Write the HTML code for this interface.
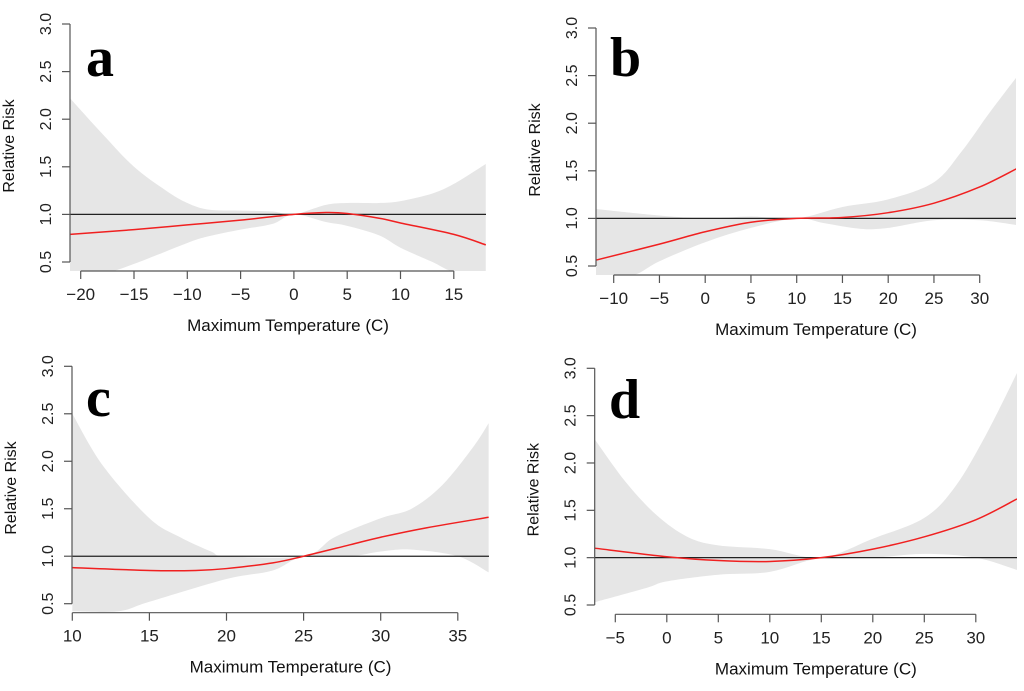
<!DOCTYPE html>
<html><head><meta charset="utf-8"><style>
body{margin:0;background:#fff}
svg{display:block;font-family:"Liberation Sans",Arial,sans-serif}
</style></head><body>
<svg id="chart" width="1024" height="691" viewBox="0 0 1024 691"></svg>
<script>
// Panel a
const aRedX=[-21,-15,-10,-5,0,3,5,8,10,15,18];
const aRedY=[0.79,0.84,0.89,0.94,1.0,1.02,1.01,0.96,0.91,0.79,0.68];
const aUpX=[-21,-18,-15,-12,-10,-8,-5,-2,0,3,5,8,10,13,15,18];
const aUpY=[2.22,1.85,1.5,1.25,1.12,1.05,1.04,1.03,1.0,1.1,1.12,1.12,1.14,1.22,1.32,1.53];
const aLoX=[-21,-18,-15,-10,-8,-5,-2,0,3,5,8,10,13,15,18];
const aLoY=[0.4,0.38,0.48,0.7,0.77,0.84,0.9,1.0,0.92,0.88,0.78,0.65,0.5,0.4,0.4];
const aTicks=[-20,-15,-10,-5,0,5,10,15];
// Panel b
const bRedX=[-12,-5,0,5,10,15,20,25,30,34];
const bRedY=[0.56,0.73,0.86,0.96,1.0,1.01,1.06,1.16,1.33,1.52];
const bUpX=[-12,-5,0,5,10,15,20,25,28,31,34];
const bUpY=[1.1,1.03,1.0,1.02,1.0,1.12,1.2,1.38,1.7,2.1,2.48];
const bLoX=[-12,-8,-5,0,5,10,13,17,20,25,30,34];
const bLoY=[0.4,0.4,0.55,0.75,0.9,1.0,0.95,0.89,0.9,0.98,0.98,0.93];
const bTicks=[-10,-5,0,5,10,15,20,25,30];
// Panel c
const cRedX=[10,15,18,20,23,25,28,30,33,37];
const cRedY=[0.88,0.85,0.85,0.87,0.93,1.0,1.12,1.2,1.3,1.41];
const cUpX=[10,12,15,17,19,20,25,27,30,32,34,36,37];
const cUpY=[2.5,1.95,1.4,1.2,1.05,1.0,1.0,1.2,1.4,1.5,1.75,2.15,2.4];
const cLoX=[10,13,15,20,23,25,28,30,32,35,37];
const cLoY=[0.42,0.42,0.52,0.76,0.85,1.0,1.0,1.05,1.07,1.0,0.83];
const cTicks=[10,15,20,25,30,35];
// Panel d
const dRedX=[-7,0,5,10,15,20,25,30,34];
const dRedY=[1.1,1.01,0.97,0.96,1.0,1.09,1.22,1.4,1.62];
const dUpX=[-7,-4,-1,2,5,10,15,20,25,28,31,34];
const dUpY=[2.25,1.8,1.45,1.22,1.13,1.09,1.0,1.2,1.42,1.75,2.3,2.95];
const dLoX=[-7,-2,0,5,10,15,20,25,30,34];
const dLoY=[0.53,0.68,0.75,0.82,0.85,1.0,1.0,1.04,1.0,0.87];
const dTicks=[-5,0,5,10,15,20,25,30];
const yTicks=[0.5,1.0,1.5,2.0,2.5,3.0];

const NS="http://www.w3.org/2000/svg";
const svg=document.getElementById('chart');
function mk(tag,attrs,parent){const e=document.createElementNS(NS,tag);for(const k in attrs)e.setAttribute(k,attrs[k]);(parent||svg).appendChild(e);return e;}
function smooth(pts){let d='M'+pts[0][0]+','+pts[0][1];for(let i=0;i<pts.length-1;i++){const p0=pts[Math.max(0,i-1)],p1=pts[i],p2=pts[i+1],p3=pts[Math.min(pts.length-1,i+2)];
const c1=[p1[0]+(p2[0]-p0[0])/6,p1[1]+(p2[1]-p0[1])/6],c2=[p2[0]-(p3[0]-p1[0])/6,p2[1]-(p3[1]-p1[1])/6];
d+=' C'+c1[0]+','+c1[1]+' '+c2[0]+','+c2[1]+' '+p2[0]+','+p2[1];}return d;}

const panels=[
 {id:'a',ax:70,t0:-20,t0px:80.7,per5:53.3,y3:24,y05:262,xaxY:271,right:486,xmin:-21,xmax:18,letterX:86,letterY:76,
  rx:aRedX,ry:aRedY,ux:aUpX,uy:aUpY,lx:aLoX,ly:aLoY,ticks:aTicks},
 {id:'b',ax:596,t0:-10,t0px:613.7,per5:45.75,y3:28,y05:266,xaxY:275,right:1016,xmin:-12,xmax:34,letterX:610,letterY:76,
  rx:bRedX,ry:bRedY,ux:bUpX,uy:bUpY,lx:bLoX,ly:bLoY,ticks:bTicks},
 {id:'c',ax:72,t0:10,t0px:72.3,per5:77.1,y3:366.3,y05:603.7,xaxY:612.7,right:489,xmin:10,xmax:37.1,letterX:86,letterY:416,
  rx:cRedX,ry:cRedY,ux:cUpX,uy:cUpY,lx:cLoX,ly:cLoY,ticks:cTicks},
 {id:'d',ax:594.7,t0:-5,t0px:615.3,per5:51.5,y3:368.3,y05:605,xaxY:614.3,right:1017,xmin:-7,xmax:34,letterX:609,letterY:418,
  rx:dRedX,ry:dRedY,ux:dUpX,uy:dUpY,lx:dLoX,ly:dLoY,ticks:dTicks}
];

panels.forEach(p=>{
 const g=mk('g',{});
 
 
 const X=v=>p.t0px+(v-p.t0)*p.per5/5;
 const Y=v=>p.y05+(v-0.5)*(p.y3-p.y05)/2.5;
 const clip=mk('clipPath',{id:'clip'+p.id},g);
 mk('rect',{x:p.ax,y:p.y3-10,width:p.right-p.ax,height:p.xaxY-p.y3+10},clip);
 const pg=mk('g',{'clip-path':'url(#clip'+p.id+')'},g);
 const up=p.ux.map((x,i)=>[X(x),Y(p.uy[i])]);
 const lo=p.lx.map((x,i)=>[X(x),Y(p.ly[i])]).reverse();
 const band=mk('path',{d:smooth(up)+' L'+lo[0][0]+','+lo[0][1]+smooth(lo).replace(/^M[^ ]+/,'')+' Z',fill:'#e6e6e6'},pg);
 
 
 const ref=mk('line',{x1:p.ax,x2:p.right,y1:Y(1),y2:Y(1),stroke:'#222','stroke-width':1.2},pg);
 
 
 const red=mk('path',{d:smooth(p.rx.map((x,i)=>[X(x),Y(p.ry[i])])),fill:'none',stroke:'#f02020','stroke-width':1.5},pg);
 
 
 const ya=mk('line',{x1:p.ax,x2:p.ax,y1:Y(3),y2:Y(0.5),stroke:'#555','stroke-width':1.2},g);
 
 
 yTicks.forEach(t=>{
  mk('line',{x1:p.ax-8,x2:p.ax,y1:Y(t),y2:Y(t),stroke:'#555','stroke-width':1.2},g);
  const tx=mk('text',{x:0,y:0,transform:'translate('+(p.ax-19)+','+Y(t)+') rotate(-90)','text-anchor':'middle','font-size':16,fill:'#222'},g);
  tx.textContent=t.toFixed(1);
  
  
 });
 const yt=mk('text',{transform:'translate('+(p.ax-56)+','+((Y(3)+Y(0.5))/2+3)+') rotate(-90)','text-anchor':'middle','font-size':16,fill:'#111'},g);
 yt.textContent='Relative Risk';
 
 
 const xa=mk('line',{x1:X(p.ticks[0]),x2:X(p.ticks[p.ticks.length-1]),y1:p.xaxY,y2:p.xaxY,stroke:'#555','stroke-width':1.2},g);
 
 
 p.ticks.forEach(t=>{
  mk('line',{x1:X(t),x2:X(t),y1:p.xaxY,y2:p.xaxY+8,stroke:'#555','stroke-width':1.2},g);
  const tx=mk('text',{x:X(t),y:p.xaxY+29,'text-anchor':'middle','font-size':17,fill:'#222'},g);
  tx.textContent=t<0?'\u2212'+(-t):String(t);
  
  
 });
 const xt=mk('text',{x:(p.ax+p.right)/2+10,y:p.xaxY+60,'text-anchor':'middle','font-size':17,fill:'#111'},g);
 xt.textContent='Maximum Temperature (C)';
 
 
 const lt=mk('text',{x:p.letterX,y:p.letterY,'font-size':56,'font-weight':'bold','font-family':'"Liberation Serif",serif',fill:'#000'},g);
 lt.textContent=p.id;
 
 
});
</script>
</body></html>
